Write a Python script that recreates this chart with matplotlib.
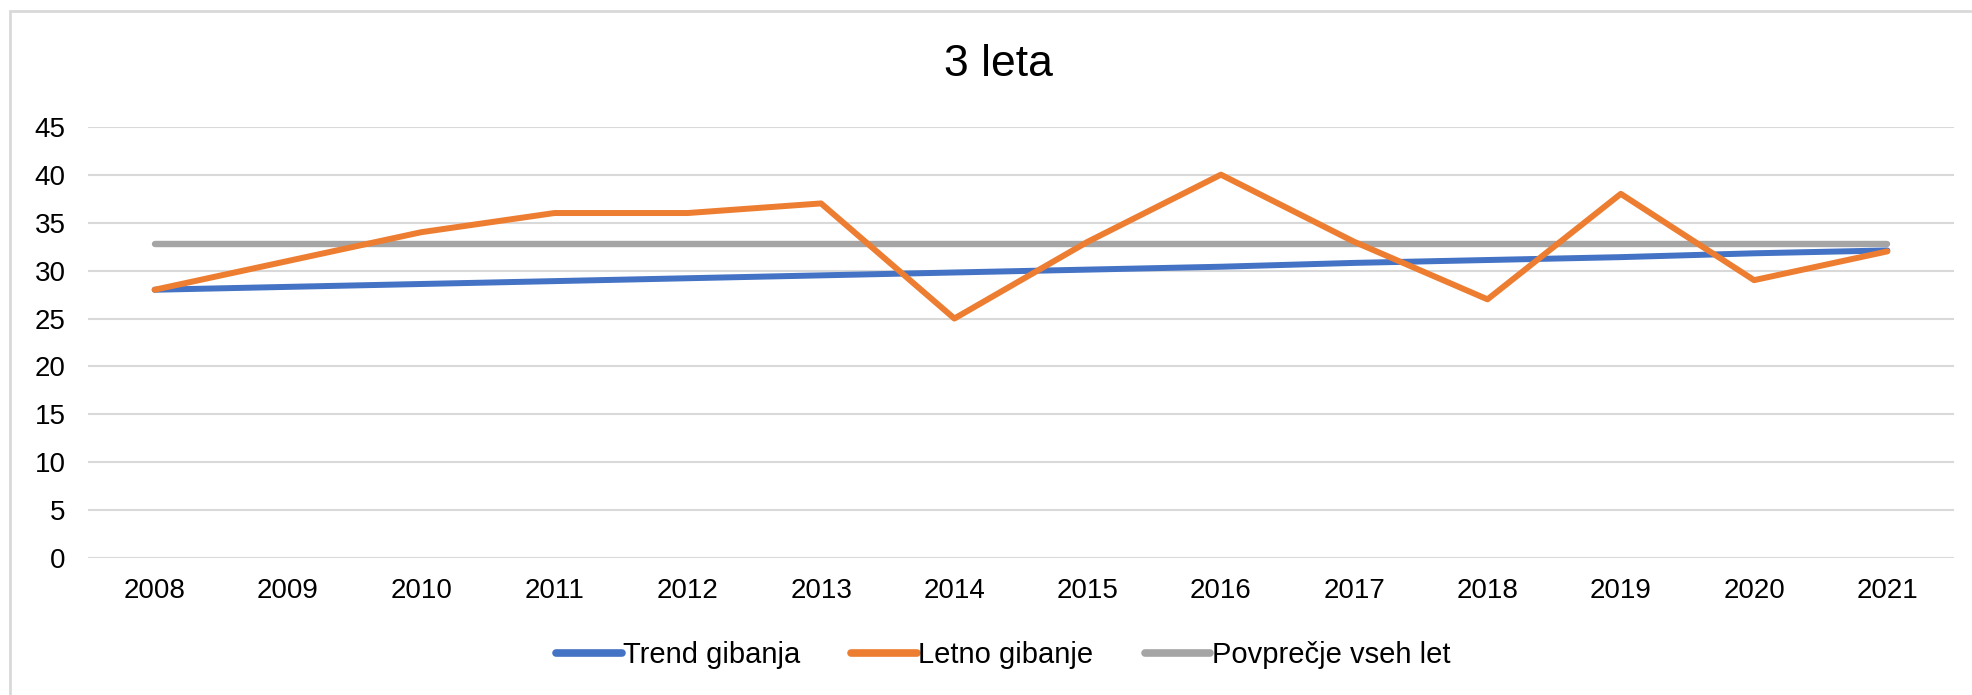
import matplotlib.pyplot as plt
from matplotlib.patches import Rectangle

# data
years = ['2008', '2009', '2010', '2011', '2012', '2013', '2014',
         '2015', '2016', '2017', '2018', '2019', '2020', '2021']
letno = [28, 31, 34, 36, 36, 37, 25, 33, 40, 33, 27, 38, 29, 32]
trend = [28.0, 28.3, 28.6, 28.9, 29.2, 29.5, 29.8, 30.1, 30.4, 30.8, 31.1, 31.4, 31.8, 32.1]
povp = [32.8] * len(years)
yticks = [0, 5, 10, 15, 20, 25, 30, 35, 40, 45]

plt.rcParams['font.family'] = ['Liberation Sans', 'DejaVu Sans']

W, H = 1972, 695
fig = plt.figure(figsize=(W / 100, H / 100), dpi=100)

# chart border (light gray frame, right/bottom run off the image)
fig.patches.append(Rectangle((10 / W, -0.1), 1.2, (H - 11) / H + 0.1,
                             transform=fig.transFigure, fill=False,
                             edgecolor='#D9D9D9', linewidth=2))

left, right = 88 / W, 1954 / W
bottom, top = (H - 558.3) / H, (H - 126.7) / H
ax = fig.add_axes([left, bottom, right - left, top - bottom])

x = list(range(len(years)))
ax.plot(x, trend, color='#4472C4', lw=4.3, solid_capstyle='round', label='Trend gibanja', zorder=3)
ax.plot(x, letno, color='#ED7D31', lw=4.3, solid_capstyle='round', label='Letno gibanje', zorder=4)
ax.plot(x, povp, color='#A5A5A5', lw=4.6, solid_capstyle='round', label='Povprečje vseh let', zorder=2)

ax.set_xlim(-0.5, len(years) - 0.5)
ax.set_ylim(0, 45)
ax.set_yticks(yticks)
ax.set_xticks(x)
ax.set_xticklabels(years)
ax.grid(axis='y', color='#D9D9D9', lw=1.5)
ax.set_axisbelow(True)
for s in ax.spines.values():
    s.set_visible(False)
ax.tick_params(length=0, labelsize=20, colors='#000000', pad=14)
ax.tick_params(axis='y', pad=16)

fig.text(998 / W, (H - 65) / H, '3 leta', ha='center', va='center', fontsize=32)

leg = fig.legend(loc='center', bbox_to_anchor=(1003 / W, (H - 655) / H), ncol=3, frameon=False,
                 fontsize=21, handlelength=2.25, handletextpad=0.05, columnspacing=1.75)
for h in leg.legend_handles:
    h.set_linewidth(5.5)

fig.savefig('out.png', dpi=100)
